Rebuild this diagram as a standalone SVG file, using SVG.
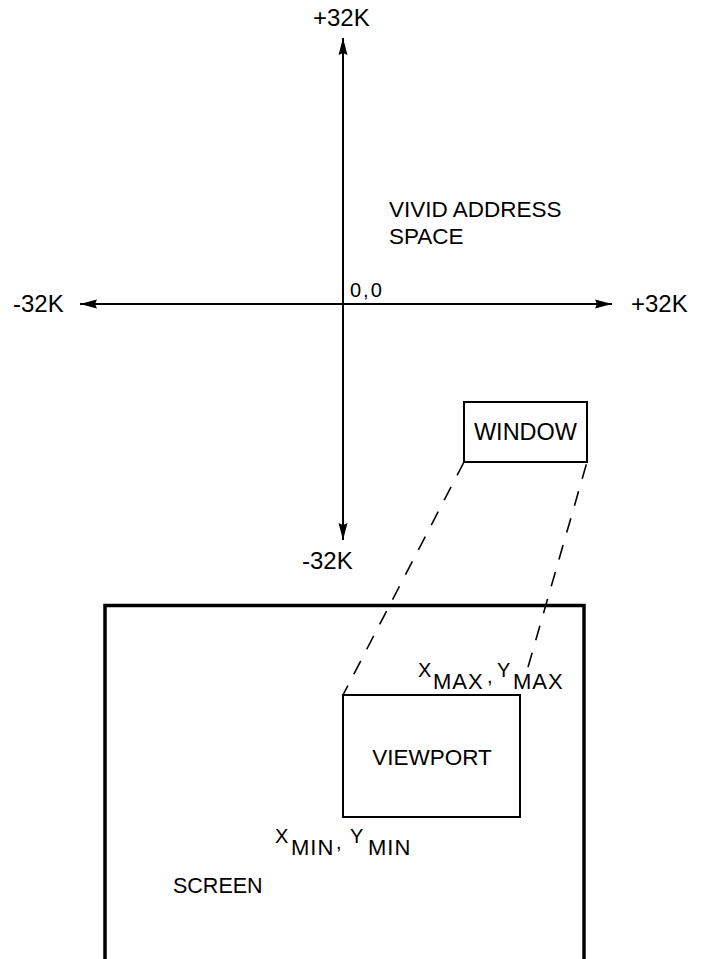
<svg xmlns="http://www.w3.org/2000/svg" width="702" height="959" viewBox="0 0 702 959">
<defs>
<marker id="ah" viewBox="0 0 17 10" refX="17" refY="5" markerWidth="17" markerHeight="10" markerUnits="userSpaceOnUse" orient="auto">
<path d="M0,0.5 L17,5 L0,9.5 L2,5 Z" fill="#000"/>
</marker>
<style>
.t{font-family:"Liberation Sans",Arial,sans-serif;font-size:24px;fill:#000}
.l{font-family:"Liberation Sans",Arial,sans-serif;font-size:22.5px;fill:#000}
.x{font-family:"Liberation Sans",Arial,sans-serif;font-size:20px;fill:#000}
.s{font-size:22px;letter-spacing:1px}
.ax{stroke:#000;stroke-width:2}
.box{fill:none;stroke:#000;stroke-width:2}
.dash{fill:none;stroke:#000;stroke-width:1.6;stroke-dasharray:15 13}
</style>
</defs>
<rect width="702" height="959" fill="#fff"/>
<g id="connectors">
<line class="ax" x1="343" y1="304" x2="343" y2="38" marker-end="url(#ah)"/>
<line class="ax" x1="343" y1="304" x2="343" y2="540" marker-end="url(#ah)"/>
<line class="ax" x1="343" y1="304" x2="80" y2="304" marker-end="url(#ah)"/>
<line class="ax" x1="343" y1="304" x2="612" y2="304" marker-end="url(#ah)"/>
<line class="dash" x1="464" y1="462" x2="343" y2="695"/>
<line class="dash" x1="520" y1="695" x2="587" y2="462" style="stroke-dasharray:0 29 15 13 15 13 15 13 15 13 15 13 15 13 15 13 15 13"/>
</g>
<g id="axis-labels">
<text class="t" x="313" y="26">+32K</text>
<text class="t" x="13" y="312">-32K</text>
<text class="t" x="631" y="312">+32K</text>
<text class="t" x="302" y="569">-32K</text>
<text class="l" x="350" y="297" style="font-size:20px;letter-spacing:2px">0,0</text>
</g>
<g id="space-label">
<text class="l" x="389" y="217">VIVID ADDRESS</text>
<text class="l" x="389" y="244">SPACE</text>
</g>
<g id="window">
<rect class="box" x="464" y="402" width="123" height="60"/>
<text class="l" x="525.5" y="440" text-anchor="middle" style="font-size:23.5px">WINDOW</text>
</g>
<g id="screen">
<path d="M105,965 V605.5 H584 V965" fill="none" stroke="#000" stroke-width="3.5"/>
<text class="l" x="173" y="893" style="font-size:21.5px">SCREEN</text>
</g>
<g id="viewport">
<rect class="box" x="343" y="695" width="177" height="122"/>
<text class="l" x="432" y="765" text-anchor="middle">VIEWPORT</text>
<text class="x" x="418" y="677">X<tspan class="s" x="433" y="689">MAX</tspan><tspan x="487" y="683">,</tspan><tspan x="497" y="677">Y</tspan><tspan class="s" x="513" y="689">MAX</tspan></text>
<text class="x" x="275" y="843">X<tspan class="s" x="291" y="855">MIN</tspan><tspan x="336" y="849">,</tspan><tspan x="350" y="843">Y</tspan><tspan class="s" x="368" y="855">MIN</tspan></text>
</g>
</svg>
